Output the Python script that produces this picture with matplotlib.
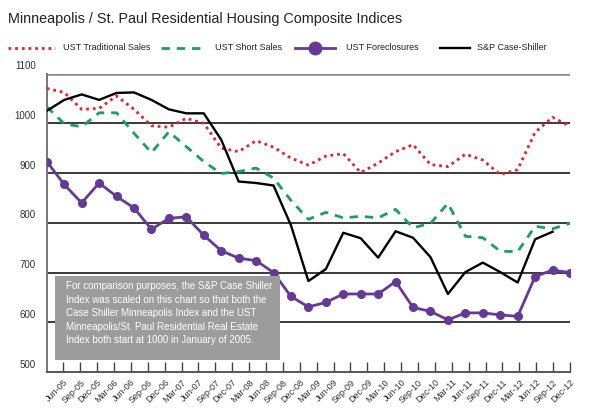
import matplotlib
matplotlib.use("Agg")
import matplotlib.pyplot as plt
import matplotlib.transforms as mtransforms
from matplotlib.lines import Line2D
from matplotlib.patches import Rectangle
import numpy as np

FONT = ["Liberation Sans Narrow", "Liberation Sans", "DejaVu Sans"]
plt.rcParams["font.family"] = FONT

quarters = ["Jun-05", "Sep-05", "Dec-05", "Mar-06", "Jun-06", "Sep-06", "Dec-06",
            "Mar-07", "Jun-07", "Sep-07", "Dec-07", "Mar-08", "Jun-08", "Sep-08",
            "Dec-08", "Mar-09", "Jun-09", "Sep-09", "Dec-09", "Mar-10", "Jun-10",
            "Sep-10", "Dec-10", "Mar-11", "Jun-11", "Sep-11", "Dec-11", "Mar-12",
            "Jun-12", "Sep-12", "Dec-12"]

traditional = [1070, 1062, 1028, 1030, 1055, 1028, 995, 992, 1010, 1000, 950, 943,
               965, 952, 930, 916, 934, 939, 901, 920, 943, 957, 917, 913, 938, 926,
               897, 907, 982, 1012, 994]
short_sales = [1033, 999, 993, 1021, 1021, 980, 941, 983, 953, 923, 899, 903, 910,
               890, 845, 807, 821, 810, 813, 810, 827, 790, 799, 839, 773, 770, 743,
               742, 793, 788, 799]
foreclosures = [923, 877, 840, 880, 853, 830, 787, 809, 812, 775, 744, 729, 724, 700,
                652, 631, 640, 657, 657, 657, 682, 630, 622, 605, 619, 619, 615, 612,
                692, 705, 700]
case_shiller = [1025, 1047, 1058, 1047, 1061, 1062, 1047, 1028, 1020, 1020, 967, 883,
                880, 875, 795, 683, 707, 780, 769, 730, 783, 770, 731, 657, 701, 720,
                701, 680, 767, 782]

note = ("For comparison purposes, the S&P Case Shiller\n"
        "Index was scaled on this chart so that both the\n"
        "Case Shiller Minneapolis Index and the UST\n"
        "Minneapolis/St. Paul Residential Real Estate\n"
        "Index both start at 1000 in January of 2005.")

RED = "#e3222b"
GREEN = "#18a060"
PURPLE = "#653a96"

fig = plt.figure(figsize=(6, 4.13), dpi=100)
ax = fig.add_axes([0.078, 0.099, 0.872, 0.723])

styles = [
    dict(color=RED, lw=2, ls=(0, (1, 1.4))),
    dict(color=GREEN, lw=2, ls=(0, (3, 2.5))),
    dict(color=PURPLE, lw=2, marker="o", ms=5.5),
    dict(color="black", lw=1.7),
]
names = ["UST Traditional Sales", "UST Short Sales", "UST Foreclosures", "S&P Case-Shiller"]
series = [traditional, short_sales, foreclosures, case_shiller]

for vals, st in zip(series, styles):
    ax.plot(np.arange(len(vals)), vals, zorder=5 if "marker" in st else 4, **st)

ax.set_xlim(0, len(traditional) - 1)
ax.set_ylim(500, 1100)

# grid lines
for v in [600, 700, 800, 900, 1000]:
    ax.axhline(v, color="#3a3a3a", lw=1.4, zorder=1)
ax.axhline(1100, color="#8a8a8a", lw=1.8, zorder=1)

for s in ["top", "right"]:
    ax.spines[s].set_visible(False)
ax.spines["left"].set_color("#777777")
ax.spines["left"].set_linewidth(1.4)
ax.spines["bottom"].set_color("#555555")
ax.spines["bottom"].set_linewidth(1.4)

ax.set_yticks([500, 600, 700, 800, 900, 1000, 1100])
ax.tick_params(axis="y", length=0, labelsize=7, labelcolor="#333333", pad=8)
offset = mtransforms.ScaledTranslation(0, 6 / 72, fig.dpi_scale_trans)
for lab in ax.get_yticklabels():
    lab.set_transform(lab.get_transform() + offset)

ticks = np.linspace(0.95, len(traditional) - 1, len(quarters))
ax.set_xticks(ticks)
ax.set_xticklabels(quarters, rotation=45, ha="right", va="top", rotation_mode="anchor")
ax.tick_params(axis="x", direction="in", length=7, width=1, color="#444444",
               labelsize=6.5, labelcolor="#333333", pad=4)

# note box
ax.add_patch(Rectangle((0.48, 525), 12.9, 168, facecolor="#9c9c9c", edgecolor="none", zorder=6))
ax.text(1.1, 683, note, fontsize=7.0, color="white", va="top", ha="left",
        linespacing=1.45, zorder=7)

fig.text(0.013, 0.955, "Minneapolis / St. Paul Residential Housing Composite Indices",
         fontsize=10.4, color="#222222", va="center")

# legend row drawn by hand
leg_y = 1 - 48 / 413
leg_x = [(8, 55, 63), (161, 205, 215), (295, 335, 346), (440, 470, 477)]
for (x0, x1, xt), st, name in zip(leg_x, styles, names):
    xs = [x0 / 600, x1 / 600]
    if "marker" in st:
        line = Line2D(xs, [leg_y, leg_y], transform=fig.transFigure, color=st["color"], lw=2)
        fig.add_artist(line)
        dot = Line2D([(x0 + x1) / 1200], [leg_y], transform=fig.transFigure,
                     color=st["color"], marker="o", ms=9, ls="none")
        fig.add_artist(dot)
    else:
        fig.add_artist(Line2D(xs, [leg_y, leg_y], transform=fig.transFigure, **st))
    fig.text(xt / 600, leg_y, name, fontsize=6.5, color="#222222", va="center")

fig.savefig("out.png", dpi=100)
